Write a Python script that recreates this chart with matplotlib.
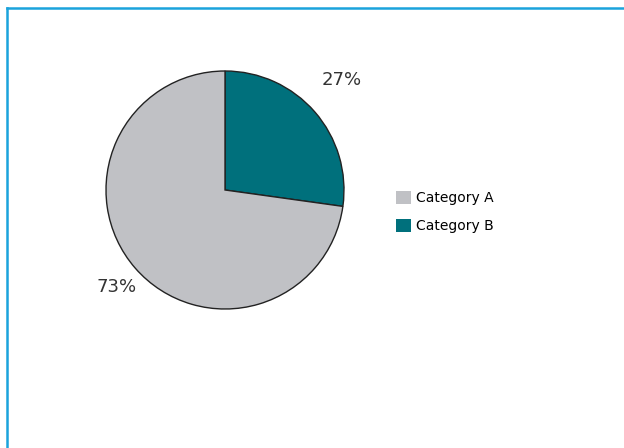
import matplotlib
matplotlib.use("Agg")
import matplotlib.pyplot as plt
from matplotlib.lines import Line2D
from matplotlib.patches import Patch

categories = ["Category B", "Category A"]
values = [27.2, 72.8]
pct_labels = ["27%", "73%"]
colors = ["#00707c", "#c0c1c5"]

W, H = 624, 448
fig = plt.figure(figsize=(W / 100, H / 100), dpi=100)

# frame lines (top and left)
fig.add_artist(Line2D([7 / W, 7 / W], [0, 1 - 8 / H], transform=fig.transFigure,
                      color="#1aa3dc", lw=1.8))
fig.add_artist(Line2D([7 / W, 1], [1 - 8 / H, 1 - 8 / H], transform=fig.transFigure,
                      color="#1aa3dc", lw=1.8))

cx, cy, r = 225, 190, 119
ax = fig.add_axes([(cx - r) / W, 1 - (cy + r) / H, 2 * r / W, 2 * r / H])
wedges, _ = ax.pie(values, colors=colors, startangle=90, counterclock=False,
                   wedgeprops=dict(edgecolor="#222222", linewidth=1.0))
ax.set_xlim(-1, 1)
ax.set_ylim(-1, 1)
ax.set_aspect("equal")
ax.axis("off")

# outside labels
fig.text(342 / W, 1 - 80 / H, pct_labels[0], ha="center", va="center",
         fontsize=13, color="#333333")
fig.text(117 / W, 1 - 287 / H, pct_labels[1], ha="center", va="center",
         fontsize=13, color="#333333")

handles = [Patch(facecolor=colors[1], edgecolor="none"),
           Patch(facecolor=colors[0], edgecolor="none")]
fig.legend(handles, [categories[1], categories[0]], loc="center left",
           bbox_to_anchor=(383 / W, 1 - 212 / H), frameon=False,
           fontsize=10, handlelength=1.1, handleheight=1.1,
           labelspacing=1.0, handletextpad=0.4)

fig.savefig("out.png", dpi=100)
